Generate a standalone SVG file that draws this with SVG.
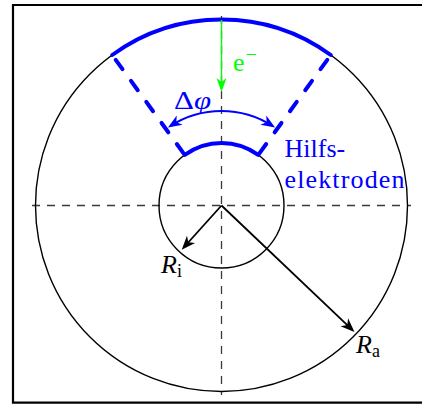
<svg xmlns="http://www.w3.org/2000/svg" width="422" height="404" viewBox="0 0 422 404">
<style>
.frame{fill:none;stroke:#000;stroke-width:2.2}
.axis{fill:none;stroke:#3a3a3a;stroke-width:1.3;stroke-dasharray:8 7}
.circ{fill:none;stroke:#000;stroke-width:1.4}
.elec{fill:none;stroke:#0000ff;stroke-width:4;stroke-linecap:round}
.edash{fill:none;stroke:#0000ff;stroke-width:4;stroke-linecap:round;stroke-dasharray:11.5 14.5;stroke-dashoffset:20}
.arr{fill:none;stroke:#000;stroke-width:1.8}
.barr{fill:none;stroke:#0000ff;stroke-width:1.8}
.garr{fill:none;stroke:#00ff00;stroke-width:1.4}
.it{font-style:italic}
</style>
<defs>
<marker id="ahk" markerUnits="userSpaceOnUse" orient="auto" overflow="visible" markerWidth="1" markerHeight="1" refX="0" refY="0">
<path d="M3,0 L-11,-5.5 L-7,0 L-11,5.5 Z" fill="#000"/>
</marker>
<marker id="ahb" markerUnits="userSpaceOnUse" orient="auto-start-reverse" overflow="visible" markerWidth="1" markerHeight="1" refX="0" refY="0">
<path d="M3,0 L-11,-5.5 L-7,0 L-11,5.5 Z" fill="#0000ff"/>
</marker>
<marker id="ahg" markerUnits="userSpaceOnUse" orient="auto" overflow="visible" markerWidth="1" markerHeight="1" refX="0" refY="0">
<path d="M3,0 L-11,-5 L-7,0 L-11,5 Z" fill="#00ff00"/>
</marker>
</defs>
<g id="frame">
<path class="frame" d="M422,5 H13 V402.6 H422"/>
</g>
<g id="axes">
<line class="axis" x1="32" y1="205.5" x2="411" y2="205.5"/>
<line class="axis" x1="221.5" y1="16" x2="221.5" y2="395"/>
</g>
<g id="outer-circle">
<circle class="circ" cx="221.5" cy="205.5" r="186"/>
</g>
<g id="inner-circle">
<circle class="circ" cx="221.5" cy="205.5" r="62.5"/>
</g>
<g id="electrodes">
<path class="elec" d="M112.2,55 A186,186 0 0 1 330.8,55"/>
<path class="elec" d="M184.76,154.94 A62.5,62.5 0 0 1 258.24,154.94"/>
<line class="edash" x1="112.2" y1="55" x2="184.76" y2="154.94"/>
<line class="edash" x1="330.8" y1="55" x2="258.24" y2="154.94"/>
</g>
<g id="connectors">
<line class="garr" x1="221.5" y1="20" x2="221.5" y2="89" marker-end="url(#ahg)"/>
<path class="barr" d="M170.45,125.98 A94.5,94.5 0 0 1 272.55,125.98" marker-start="url(#ahb)" marker-end="url(#ahb)"/>
<line class="arr" x1="221.5" y1="205.5" x2="183.7" y2="247.5" marker-end="url(#ahk)"/>
<line class="arr" x1="221.5" y1="205.5" x2="352.3" y2="329.9" marker-end="url(#ahk)"/>
</g>
<g id="labels" font-family="Liberation Serif, Times New Roman, serif" font-size="26">
<text x="233" y="71.3" fill="#00ff00">e<tspan font-size="20" dx="1" dy="-10">−</tspan></text>
<text x="174" y="108.5" fill="#0000ff" font-size="26" textLength="37" lengthAdjust="spacingAndGlyphs">Δ<tspan class="it">φ</tspan></text>
<text x="284.5" y="156.7" fill="#0000ff">Hilfs-</text>
<text x="284.5" y="188.3" fill="#0000ff" textLength="120" lengthAdjust="spacing">elektroden</text>
<text x="161" y="273" fill="#000"><tspan class="it">R</tspan><tspan font-size="18" dy="4">i</tspan></text>
<text x="356" y="353" fill="#000"><tspan class="it">R</tspan><tspan font-size="18" dy="4">a</tspan></text>
</g>
</svg>
